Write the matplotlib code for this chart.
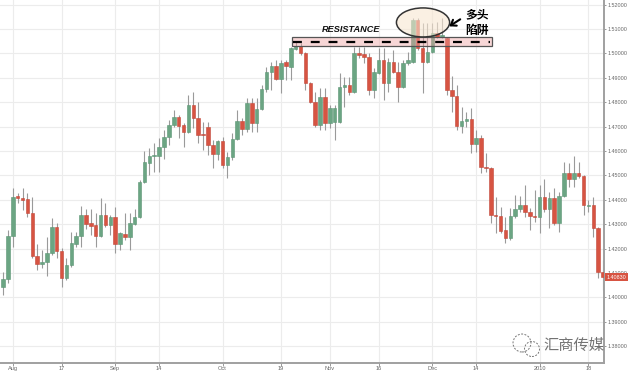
import matplotlib
matplotlib.use('Agg')
import matplotlib.pyplot as plt
import numpy as np
import pandas as pd
from matplotlib.patches import Rectangle, Ellipse, Circle

# ---------------- data (EUR/USD daily) ----------------
opens = [1.4042, 1.4075, 1.4251, 1.4415, 1.4407, 1.4403, 1.4346, 1.4169, 1.4137, 1.4145,
         1.4182, 1.4288, 1.4190, 1.4079, 1.4133, 1.4219, 1.4251, 1.4338, 1.4305, 1.4297,
         1.4251, 1.4338, 1.4297, 1.4329, 1.4219, 1.4260, 1.4247, 1.4301, 1.4329, 1.4473,
         1.4551, 1.4579, 1.4579, 1.4616, 1.4657, 1.4707, 1.4739, 1.4707, 1.4678, 1.4789,
         1.4735, 1.4670, 1.4698, 1.4625, 1.4588, 1.4641, 1.4543, 1.4575, 1.4649, 1.4723,
         1.4690, 1.4797, 1.4715, 1.4772, 1.4854, 1.4924, 1.4948, 1.4895, 1.4965, 1.4944,
         1.5018, 1.5030, 1.5002, 1.4879, 1.4801, 1.4707, 1.4821, 1.4715, 1.4719, 1.4719,
         1.4862, 1.4871, 1.4842, 1.5002, 1.4998, 1.4985, 1.4850, 1.4920, 1.4973, 1.4879,
         1.4965, 1.4924, 1.4862, 1.4961, 1.4965, 1.5137, 1.5022, 1.4965, 1.5006, 1.5084,
         1.5067, 1.5063, 1.4850, 1.4825, 1.4702, 1.4723, 1.4731, 1.4629, 1.4653, 1.4534,
         1.4530, 1.4338, 1.4333, 1.4276, 1.4243, 1.4333, 1.4362, 1.4379, 1.4350, 1.4333,
         1.4329, 1.4411, 1.4362, 1.4407, 1.4305, 1.4415, 1.4510, 1.4485, 1.4510, 1.4497,
         1.4374, 1.4379, 1.4284, 1.4104]
highs = [1.4104, 1.4276, 1.4448, 1.4428, 1.4448, 1.4428, 1.4411, 1.4219, 1.4194, 1.4247,
         1.4325, 1.4305, 1.4202, 1.4161, 1.4268, 1.4268, 1.4374, 1.4362, 1.4362, 1.4346,
         1.4407, 1.4387, 1.4338, 1.4370, 1.4268, 1.4346, 1.4346, 1.4362, 1.4481, 1.4600,
         1.4612, 1.4633, 1.4653, 1.4686, 1.4727, 1.4768, 1.4748, 1.4715, 1.4830, 1.4842,
         1.4801, 1.4719, 1.4719, 1.4645, 1.4645, 1.4657, 1.4596, 1.4674, 1.4768, 1.4735,
         1.4817, 1.4817, 1.4817, 1.4871, 1.4944, 1.4965, 1.4973, 1.4973, 1.4973, 1.5026,
         1.5047, 1.5043, 1.5006, 1.4883, 1.4842, 1.4858, 1.4858, 1.4789, 1.4789, 1.4920,
         1.4903, 1.4903, 1.5026, 1.5026, 1.5026, 1.5002, 1.4940, 1.5022, 1.5022, 1.4981,
         1.5014, 1.4965, 1.4973, 1.5006, 1.5145, 1.5145, 1.5125, 1.5125, 1.5125, 1.5129,
         1.5145, 1.5067, 1.4907, 1.4871, 1.4780, 1.4760, 1.4776, 1.4686, 1.4666, 1.4592,
         1.4534, 1.4411, 1.4370, 1.4329, 1.4366, 1.4420, 1.4415, 1.4461, 1.4366, 1.4440,
         1.4461, 1.4485, 1.4432, 1.4448, 1.4432, 1.4555, 1.4551, 1.4579, 1.4555, 1.4502,
         1.4399, 1.4411, 1.4288, 1.4153]
lows = [1.4010, 1.4059, 1.4206, 1.4387, 1.4358, 1.4329, 1.4161, 1.4112, 1.4120, 1.4087,
        1.4174, 1.4161, 1.4042, 1.4071, 1.4124, 1.4206, 1.4206, 1.4280, 1.4256, 1.4206,
        1.4247, 1.4288, 1.4256, 1.4182, 1.4194, 1.4235, 1.4194, 1.4297, 1.4325, 1.4469,
        1.4502, 1.4514, 1.4514, 1.4567, 1.4625, 1.4698, 1.4653, 1.4616, 1.4674, 1.4694,
        1.4633, 1.4604, 1.4584, 1.4530, 1.4563, 1.4530, 1.4489, 1.4563, 1.4645, 1.4666,
        1.4678, 1.4678, 1.4678, 1.4768, 1.4842, 1.4850, 1.4891, 1.4838, 1.4891, 1.4891,
        1.5014, 1.4993, 1.4850, 1.4797, 1.4698, 1.4686, 1.4686, 1.4694, 1.4645, 1.4715,
        1.4780, 1.4830, 1.4838, 1.4981, 1.4961, 1.4830, 1.4817, 1.4916, 1.4809, 1.4842,
        1.4920, 1.4801, 1.4858, 1.4952, 1.4961, 1.5014, 1.4838, 1.4961, 1.5002, 1.5063,
        1.5063, 1.4830, 1.4760, 1.4686, 1.4674, 1.4698, 1.4592, 1.4596, 1.4510, 1.4514,
        1.4305, 1.4264, 1.4264, 1.4223, 1.4235, 1.4325, 1.4350, 1.4329, 1.4276, 1.4309,
        1.4264, 1.4350, 1.4284, 1.4297, 1.4268, 1.4411, 1.4452, 1.4452, 1.4489, 1.4338,
        1.4350, 1.4247, 1.4079, 1.4030]
closes = [1.4075, 1.4251, 1.4411, 1.4407, 1.4399, 1.4346, 1.4169, 1.4137, 1.4145, 1.4182,
          1.4288, 1.4190, 1.4079, 1.4133, 1.4223, 1.4251, 1.4338, 1.4301, 1.4292, 1.4251,
          1.4338, 1.4297, 1.4329, 1.4219, 1.4264, 1.4247, 1.4305, 1.4329, 1.4473, 1.4555,
          1.4579, 1.4584, 1.4616, 1.4657, 1.4707, 1.4739, 1.4702, 1.4678, 1.4789, 1.4735,
          1.4666, 1.4666, 1.4625, 1.4588, 1.4641, 1.4543, 1.4575, 1.4649, 1.4723, 1.4690,
          1.4797, 1.4715, 1.4772, 1.4854, 1.4924, 1.4948, 1.4895, 1.4961, 1.4948, 1.5022,
          1.5030, 1.5002, 1.4879, 1.4801, 1.4707, 1.4821, 1.4715, 1.4776, 1.4776, 1.4862,
          1.4871, 1.4842, 1.5002, 1.4993, 1.4985, 1.4850, 1.4924, 1.4973, 1.4879, 1.4965,
          1.4924, 1.4862, 1.4961, 1.4973, 1.5137, 1.5022, 1.4965, 1.5006, 1.5084, 1.5067,
          1.5076, 1.4850, 1.4825, 1.4702, 1.4723, 1.4731, 1.4629, 1.4653, 1.4534, 1.4530,
          1.4338, 1.4333, 1.4272, 1.4243, 1.4333, 1.4362, 1.4379, 1.4350, 1.4333, 1.4329,
          1.4411, 1.4362, 1.4407, 1.4305, 1.4415, 1.4510, 1.4485, 1.4510, 1.4497, 1.4379,
          1.4379, 1.4284, 1.4104, 1.4083]

holidays = ['2009-12-25', '2010-01-01']
tick_dates = ['2009-08-03', '2009-08-17', '2009-09-01', '2009-09-14', '2009-10-01', '2009-10-19',
              '2009-11-02', '2009-11-16', '2009-12-01', '2009-12-14', '2010-01-04', '2010-01-18']
tick_labels = ['Aug', '17', 'Sep', '14', 'Oct', '19', 'Nov', '16', 'Dec', '14', '2010', '18']
price_ticks = [1.38, 1.39, 1.40, 1.41, 1.42, 1.43, 1.44, 1.45, 1.46, 1.47, 1.48, 1.49, 1.50, 1.51, 1.52]
last_price = 1.40830
resistance_low, resistance_high = 1.5030, 1.5067
resistance_start, resistance_end = '2009-10-21', '2009-12-17'
trap_date, trap_price = '2009-11-27', 1.5127

# ---------------- build ----------------
dates = pd.bdate_range('2009-07-30', '2010-01-21')
dates = dates[~dates.isin(pd.to_datetime(holidays))]
n = len(opens)
dates = dates[:n]
pos = {d: i for i, d in enumerate(dates)}
x = np.arange(n)
o = np.array(opens); h = np.array(highs); l = np.array(lows); c = np.array(closes)
up = c >= o

UP = '#6ba583'
DOWN = '#d75442'
AXFONT = 'Liberation Sans'

fig = plt.figure(figsize=(6.28, 3.72), dpi=100)
ax = fig.add_axes([0, 9/372, 604/628, 363/372])

ax.set_ylim(1.3731, 1.5219)
ax.set_xlim(-0.62, 123.2)

# grid
for v in price_ticks:
    ax.axhline(v, color='#ececec', lw=0.8, zorder=0)
tick_pos = [pos[pd.Timestamp(d)] for d in tick_dates]
for p in tick_pos:
    ax.axvline(p, color='#ececec', lw=0.8, zorder=0)

# candles
ax.vlines(x, l, h, color='#9a9a9a', lw=0.8, zorder=2)
body_h = np.maximum(np.abs(c - o), 0.00035)
ax.bar(x, body_h, bottom=np.minimum(o, c), width=0.72,
       color=np.where(up, UP, DOWN), edgecolor=np.where(up, '#5b9574', '#c2473a'),
       lw=0.4, zorder=3)

# axes styling
for s in ['top', 'left']:
    ax.spines[s].set_visible(False)
for s in ['right', 'bottom']:
    ax.spines[s].set_color('#a0a0a0')
    ax.spines[s].set_linewidth(1.4)
ax.yaxis.tick_right()
ax.set_yticks(price_ticks)
ax.set_yticklabels([f'{v:.5f}' for v in price_ticks])
ax.set_xticks(tick_pos)
ax.set_xticklabels(tick_labels)
ax.tick_params(axis='y', labelsize=3.9, length=1.5, width=0.6, pad=0.9, color='#888888')
ax.tick_params(axis='x', labelsize=4.1, length=1.8, width=0.6, pad=0.6, color='#888888')
for t in ax.get_yticklabels() + ax.get_xticklabels():
    t.set_color('#666666')
    t.set_family(AXFONT)

# last price label
ax.annotate(f'{last_price:.5f}', xy=(1, last_price), xycoords=('axes fraction', 'data'),
            xytext=(1.6, 0), textcoords='offset points', ha='left', va='center',
            fontsize=3.9, family=AXFONT, color='white', zorder=10, annotation_clip=False,
            bbox=dict(boxstyle='square,pad=0.3', fc=DOWN, ec='none'))

# resistance zone
rs = pos[pd.Timestamp(resistance_start)] + 0.2
re_ = pos[pd.Timestamp(resistance_end)] + 0.2
ax.add_patch(Rectangle((rs, resistance_low), re_ - rs, resistance_high - resistance_low,
                       fc=(0.93, 0.62, 0.62, 0.42), ec='#555555', lw=0.9, zorder=5))
ax.plot([rs + 0.3, re_ - 0.3], [(resistance_low + resistance_high) / 2] * 2,
        color='black', lw=1.6, ls=(0, (4, 4)), zorder=6)
ax.text((rs + re_) / 2 - 8.4, resistance_high + 0.0031, 'RESISTANCE', fontsize=6.6,
        fontweight='bold', fontstyle='italic', family='Liberation Sans',
        ha='center', va='center', color='#111111', zorder=6)

# bull trap ellipse
tx = pos[pd.Timestamp(trap_date)] + 0.1
ax.add_patch(Ellipse((tx, trap_price), 10.9, 0.0119, fc=(0.97, 0.90, 0.82, 0.6),
                     ec='#333333', lw=1.1, zorder=7))
ax.annotate('', xy=(tx + 4.9, trap_price - 0.0022), xytext=(tx + 8.1, trap_price + 0.0019),
            arrowprops=dict(arrowstyle='->,head_length=0.35,head_width=0.25', lw=1.5, color='black'),
            zorder=8)
cjk = ['Noto Sans CJK SC', 'DejaVu Sans']
ax.text(tx + 11.1, trap_price + 0.0031, '多头', fontsize=8.5, fontweight='bold', family=cjk,
        ha='center', va='center', color='black', zorder=8)
ax.text(tx + 11.1, trap_price - 0.0035, '陷阱', fontsize=8.5, fontweight='bold', family=cjk,
        ha='center', va='center', color='black', zorder=8)

# watermark
fig.text(574/628, 1 - 345/372, '汇商传媒', fontsize=11, family=cjk, color='#5a5a5a',
         alpha=0.85, ha='center', va='center')
fig.patches.append(Circle((5.22, 0.29), 0.09, transform=fig.dpi_scale_trans, fill=False,
                          ec='#777777', lw=0.7, ls=(0, (2, 1.5))))
fig.patches.append(Circle((5.32, 0.23), 0.075, transform=fig.dpi_scale_trans, fill=False,
                          ec='#777777', lw=0.7, ls=(0, (2, 1.5))))

fig.savefig('out.png', dpi=100)
